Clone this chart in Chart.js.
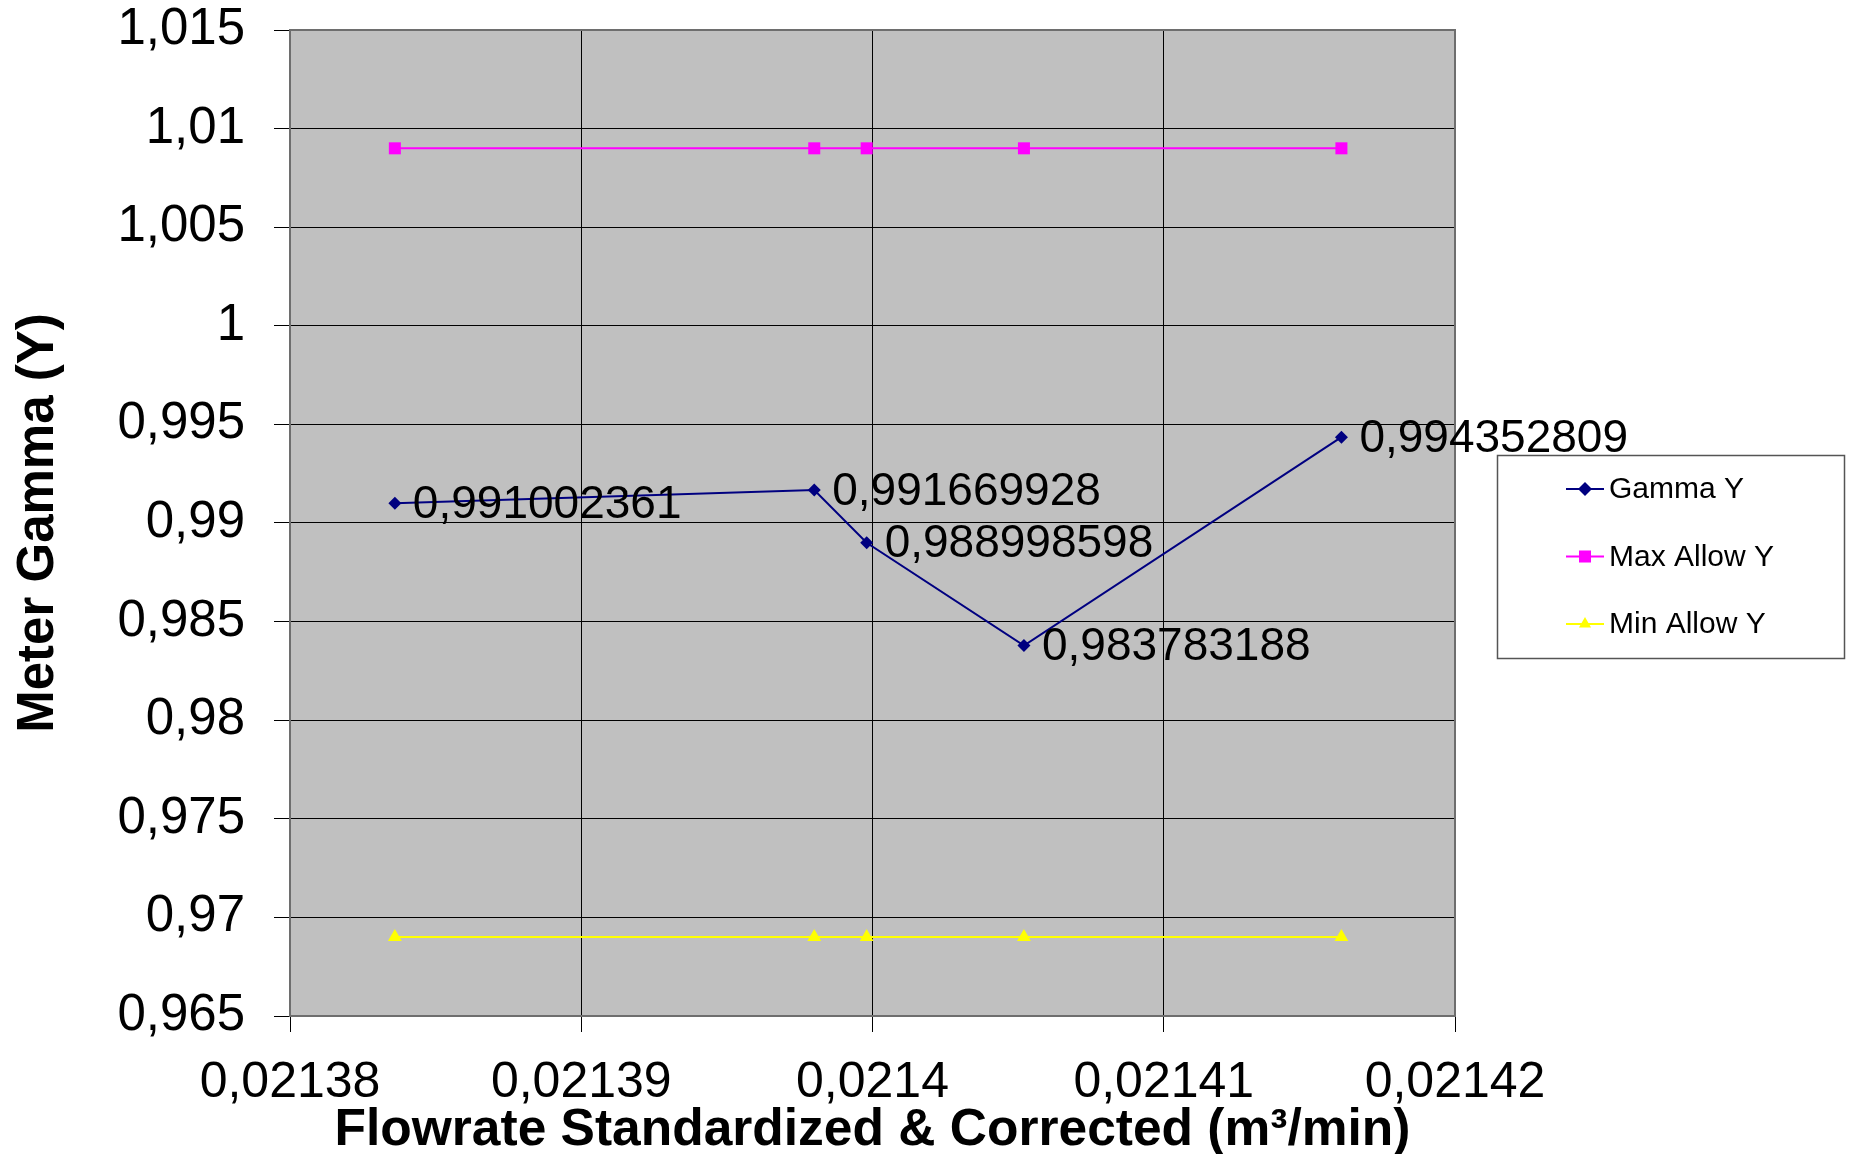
<!DOCTYPE html>
<html>
<head>
<meta charset="utf-8">
<title>Meter Gamma (Y)</title>
<script src="https://cdn.jsdelivr.net/npm/chart.js@4/dist/chart.umd.min.js"></script>
<style>
  html, body { margin: 0; padding: 0; background: #ffffff; }
  #wrap { width: 1853px; height: 1154px; }
</style>
</head>
<body>
<div id="wrap"><canvas id="chart" width="1853" height="1154"></canvas></div>
<script>
// Flowrate (m³/min) for each calibration run
const flowRate = [0.0213836, 0.0213980, 0.0213998, 0.0214052, 0.0214161];
// Measured meter gamma per run
const gammaY = [0.991002361, 0.991669928, 0.988998598, 0.983783188, 0.994352809];
// Allowed limits
const maxAllowY = [1.009, 1.009, 1.009, 1.009, 1.009];
const minAllowY = [0.969, 0.969, 0.969, 0.969, 0.969];
// Axis ticks
const xTickValues = [0.02138, 0.02139, 0.0214, 0.02141, 0.02142];
const yTickValues = [0.965, 0.97, 0.975, 0.98, 0.985, 0.99, 0.995, 1, 1.005, 1.01, 1.015];
// Series names
const seriesNames = ['Gamma Y', 'Max Allow Y', 'Min Allow Y'];

const FONT = '"Liberation Sans", Arial, Helvetica, sans-serif';
const fmt = v => String(+Number(v).toPrecision(12)).replace('.', ',');
const pairs = ys => flowRate.map((x, i) => ({ x: x, y: ys[i] }));

const seriesStyle = [
  { color: '#000080', pointStyle: 'rectRot', radius: 6.5 },
  { color: '#FF00FF', pointStyle: 'rect', radius: 8.5 },
  { color: '#FFFF00', pointStyle: 'triangle', radius: 8 }
];

// Grey plot-area fill
const plotBackground = {
  id: 'plotBackground',
  beforeDraw(chart) {
    const { ctx, chartArea: a } = chart;
    ctx.save();
    ctx.fillStyle = '#C0C0C0';
    ctx.fillRect(a.left, a.top, a.right - a.left, a.bottom - a.top);
    ctx.restore();
  }
};

// Frame around the plot area
const plotFrame = {
  id: 'plotFrame',
  afterDatasetsDraw(chart) {
    const { ctx, chartArea: a } = chart;
    ctx.save();
    ctx.strokeStyle = '#6E6E6E';
    ctx.lineWidth = 2;
    ctx.strokeRect(a.left, a.top, a.right - a.left, a.bottom - a.top);
    ctx.restore();
  }
};

// Value labels to the right of each gamma point
const gammaLabels = {
  id: 'gammaLabels',
  afterDatasetsDraw(chart) {
    const { ctx } = chart;
    const meta = chart.getDatasetMeta(0);
    ctx.save();
    ctx.font = '46px ' + FONT;
    ctx.fillStyle = '#000000';
    ctx.textAlign = 'left';
    ctx.textBaseline = 'middle';
    meta.data.forEach((pt, i) => {
      ctx.fillText(fmt(gammaY[i]), pt.x + 18, pt.y + 2);
    });
    ctx.restore();
  }
};

function drawMarker(ctx, style, x, y, r) {
  ctx.beginPath();
  if (style === 'rectRot') {
    ctx.moveTo(x, y - r); ctx.lineTo(x + r, y); ctx.lineTo(x, y + r); ctx.lineTo(x - r, y);
  } else if (style === 'rect') {
    const s = r * Math.SQRT1_2;
    ctx.rect(x - s, y - s, 2 * s, 2 * s);
  } else {
    ctx.moveTo(x, y - r);
    ctx.lineTo(x + r * 0.866, y + r * 0.5);
    ctx.lineTo(x - r * 0.866, y + r * 0.5);
  }
  ctx.closePath();
  ctx.fill();
}

// Boxed legend at the right
const boxLegend = {
  id: 'boxLegend',
  afterDraw(chart) {
    const { ctx } = chart;
    const box = { x: 1497, y: 455, w: 347, h: 203 };
    ctx.save();
    ctx.strokeStyle = '#555555';
    ctx.lineWidth = 1.5;
    ctx.strokeRect(box.x + 0.5, box.y + 0.5, box.w, box.h);
    ctx.font = '30px ' + FONT;
    ctx.textAlign = 'left';
    ctx.textBaseline = 'middle';
    chart.data.datasets.forEach((ds, i) => {
      const st = seriesStyle[i];
      const y = 489 + i * 67.5;
      ctx.strokeStyle = st.color;
      ctx.fillStyle = st.color;
      ctx.lineWidth = 2;
      ctx.beginPath();
      ctx.moveTo(1566, y);
      ctx.lineTo(1604, y);
      ctx.stroke();
      drawMarker(ctx, st.pointStyle, 1585, y, st.pointStyle === 'rect' ? 8.5 : 7);
      ctx.fillStyle = '#000000';
      ctx.fillText(ds.label, 1609, y + 1);
    });
    ctx.restore();
  }
};

Chart.defaults.font.family = FONT;
Chart.defaults.color = '#000000';

const seriesValues = [gammaY, maxAllowY, minAllowY];
const datasets = seriesValues.map((vals, i) => ({
  label: seriesNames[i],
  data: pairs(vals),
  borderColor: seriesStyle[i].color,
  backgroundColor: seriesStyle[i].color,
  borderWidth: 2,
  pointStyle: seriesStyle[i].pointStyle,
  pointRadius: seriesStyle[i].radius,
  pointHoverRadius: seriesStyle[i].radius,
  pointBorderWidth: 0,
  tension: 0,
  fill: false
}));

new Chart(document.getElementById('chart'), {
  type: 'line',
  data: { datasets: datasets },
  plugins: [plotBackground, plotFrame, gammaLabels, boxLegend],
  options: {
    responsive: false,
    animation: false,
    devicePixelRatio: 1,
    layout: { padding: { top: 30, right: 398, left: 0, bottom: 0 } },
    plugins: {
      legend: { display: false },
      tooltip: { enabled: false },
      title: { display: false }
    },
    scales: {
      x: {
        type: 'linear',
        min: xTickValues[0],
        max: xTickValues[xTickValues.length - 1],
        afterBuildTicks: s => { s.ticks = xTickValues.map(v => ({ value: v })); },
        afterFit: s => { s.height = 138; s.paddingLeft = 0; s.paddingRight = 0; },
        ticks: {
          autoSkip: false,
          maxRotation: 0,
          minRotation: 0,
          padding: 21,
          color: '#000000',
          font: { size: 50 },
          callback: v => fmt(v)
        },
        grid: { color: '#000000', lineWidth: 1, tickLength: 16, tickColor: '#000000' },
        border: { display: false },
        title: {
          display: true,
          text: 'Flowrate Standardized & Corrected (m³/min)',
          color: '#000000',
          font: { size: 51.5, weight: 'bold', lineHeight: 0.8 },
          padding: { top: 0, bottom: 3 }
        }
      },
      y: {
        type: 'linear',
        min: yTickValues[0],
        max: yTickValues[yTickValues.length - 1],
        afterBuildTicks: s => { s.ticks = yTickValues.map(v => ({ value: v })); },
        afterFit: s => { s.width = 290; s.paddingTop = 0; s.paddingBottom = 0; },
        ticks: {
          padding: 29,
          color: '#000000',
          font: { size: 51 },
          callback: v => fmt(v)
        },
        grid: { color: '#000000', lineWidth: 1, tickLength: 16, tickColor: '#000000' },
        border: { display: false },
        title: {
          display: true,
          text: 'Meter Gamma (Y)',
          color: '#000000',
          font: { size: 51, weight: 'bold' },
          padding: { top: 8, bottom: 0 }
        }
      }
    }
  }
});
</script>
</body>
</html>
